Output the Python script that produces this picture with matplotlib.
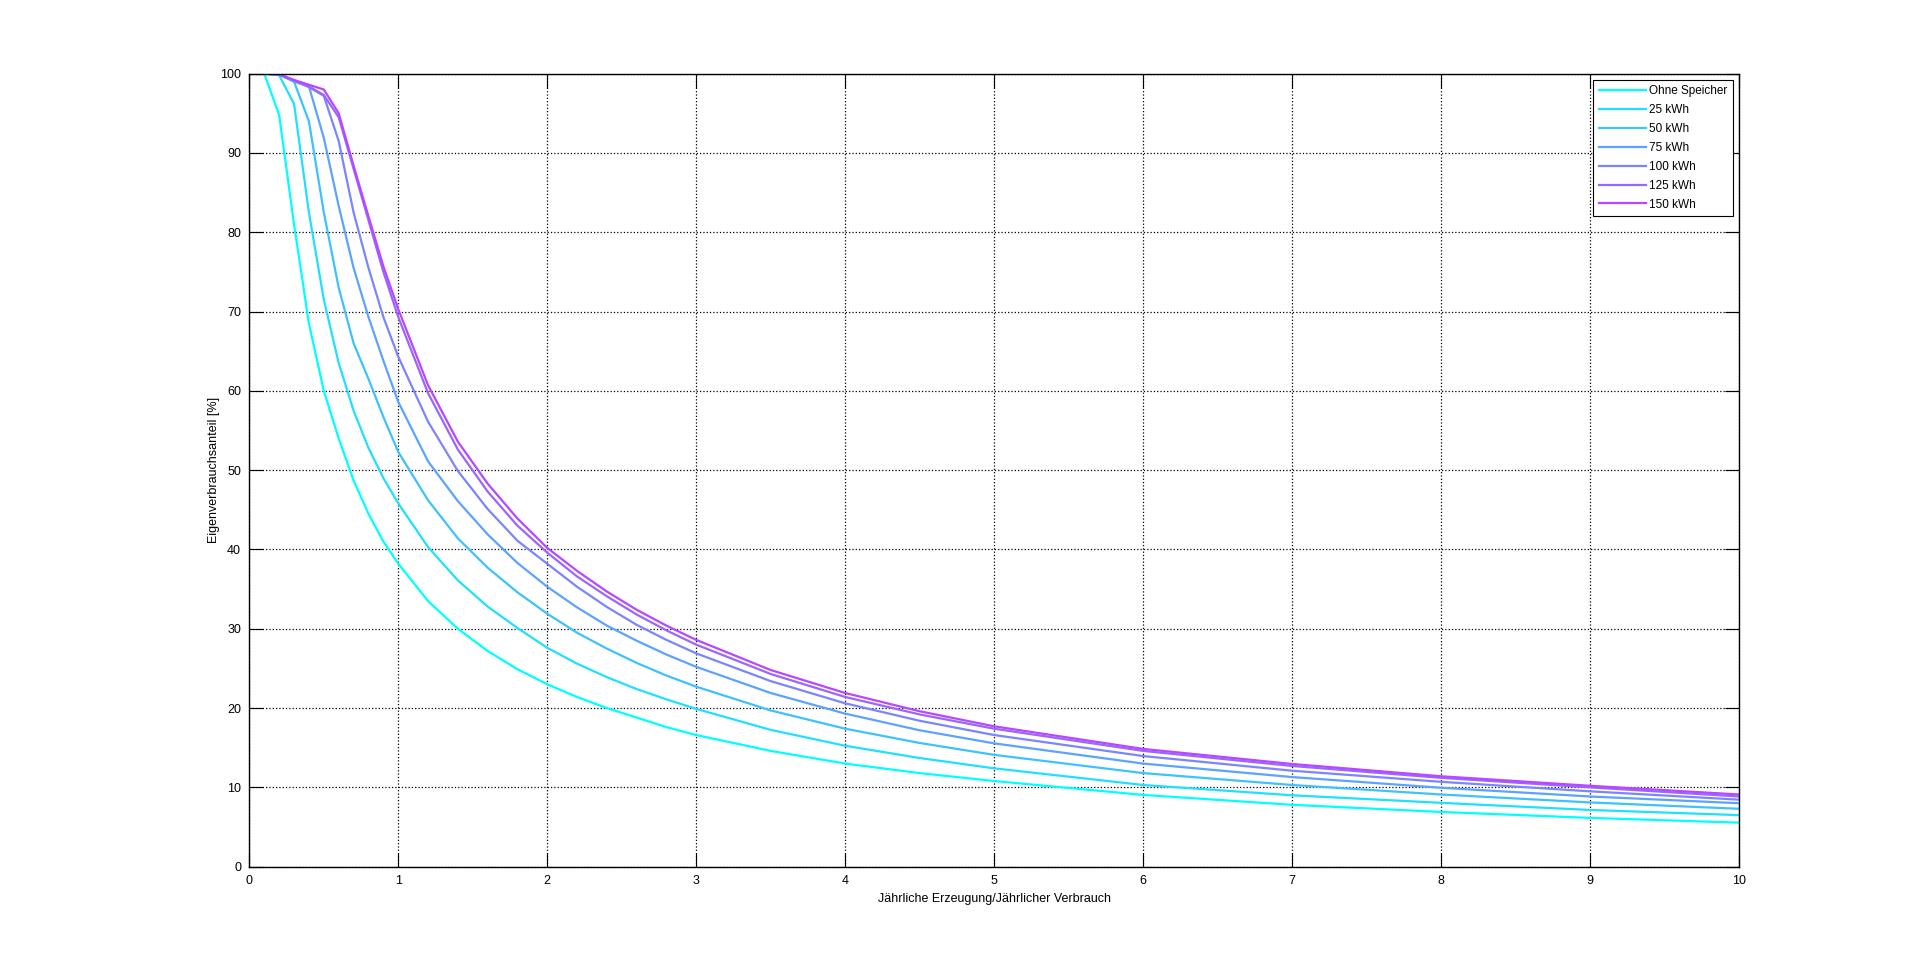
import numpy as np
import matplotlib
matplotlib.use('Agg')
import matplotlib.pyplot as plt

plt.rcParams['font.family'] = ['Liberation Sans', 'DejaVu Sans']

# x-Werte (Erzeugung/Verbrauch)
x_vals = [0.1, 0.2, 0.3, 0.4, 0.5, 0.6, 0.7, 0.8, 0.9, 1.0,
          1.2, 1.4, 1.6, 1.8, 2.0, 2.2, 2.4, 2.6, 2.8, 3.0,
          3.5, 4.0, 4.5, 5.0, 6.0, 7.0, 8.0, 9.0, 10.0]

# Eigenverbrauchsanteil [%] je Speichergröße
ohne_speicher = [100, 94.8, 81.0, 68.5, 60.0, 54.0, 48.7, 44.5, 41.0, 38.2,
                 33.5, 30.0, 27.2, 24.9, 23.0, 21.4, 20.0, 18.8, 17.6, 16.6,
                 14.6, 13.0, 11.8, 10.8, 9.05, 7.8, 6.9, 6.15, 5.55]
kwh_25 = [100, 99.8, 96.2, 82.5, 71.5, 63.5, 57.5, 52.8, 49.0, 45.8,
          40.3, 36.1, 32.8, 30.1, 27.6, 25.6, 23.9, 22.4, 21.1, 19.9,
          17.25, 15.25, 13.7, 12.4, 10.3, 9.0, 8.05, 7.15, 6.5]
kwh_50 = [100, 99.9, 99.0, 94.0, 82.5, 73.0, 66.0, 61.5, 56.7, 52.3,
          46.2, 41.4, 37.7, 34.6, 31.9, 29.5, 27.5, 25.7, 24.1, 22.7,
          19.7, 17.4, 15.6, 14.1, 11.8, 10.3, 9.1, 8.1, 7.3]
kwh_75 = [100, 99.9, 99.0, 98.4, 91.9, 83.3, 75.5, 69.3, 63.8, 58.6,
          51.1, 46.1, 41.9, 38.3, 35.3, 32.7, 30.4, 28.5, 26.75, 25.2,
          21.9, 19.3, 17.2, 15.55, 13.0, 11.3, 9.95, 8.85, 8.0]
kwh_100 = [100, 99.9, 99.1, 98.3, 97.2, 91.5, 82.5, 75.5, 69.3, 64.3,
           56.1, 49.9, 45.1, 41.1, 38.2, 35.3, 32.75, 30.5, 28.6, 26.9,
           23.4, 20.6, 18.4, 16.6, 13.95, 12.1, 10.7, 9.5, 8.45]
kwh_125 = [100, 99.9, 99.2, 98.4, 97.3, 94.5, 88.0, 81.5, 75.0, 69.3,
           59.7, 52.6, 47.3, 43.0, 39.6, 36.6, 34.1, 31.8, 29.8, 28.0,
           24.3, 21.4, 19.2, 17.4, 14.6, 12.7, 11.2, 10.0, 8.85]
kwh_150 = [100, 99.9, 99.2, 98.6, 98.0, 95.0, 88.4, 82.0, 75.7, 70.3,
           60.7, 53.6, 48.3, 43.9, 40.2, 37.3, 34.7, 32.4, 30.4, 28.6,
           24.8, 21.9, 19.6, 17.7, 14.85, 12.95, 11.4, 10.2, 9.1]

labels = ['Ohne Speicher', '25 kWh', '50 kWh', '75 kWh', '100 kWh', '125 kWh', '150 kWh']
series = [ohne_speicher, kwh_25, kwh_50, kwh_75, kwh_100, kwh_125, kwh_150]

fig = plt.figure(figsize=(19.21, 9.73), dpi=100)
ax = fig.add_axes([0.1298, 0.1093, 0.7753, 0.815])

# Farbverlauf cyan -> violett (wie MATLAB "cool")
for i, (y, lab) in enumerate(zip(series, labels)):
    t = i * 0.12
    ax.plot(x_vals, y, color=(t, 1 - t, 1.0), lw=1.6, label=lab)

ax.set_xlim(0, 10)
ax.set_ylim(0, 100)
ax.set_xticks(np.arange(0, 11, 1))
ax.set_yticks(np.arange(0, 101, 10))
ax.grid(True, linestyle=':', color='black', linewidth=0.9)
ax.tick_params(direction='in', length=10, width=0.8, top=True, right=True,
               labelsize=9, pad=6, colors='black')
for sp in ax.spines.values():
    sp.set_linewidth(1.0)

ax.set_xlabel('Jährliche Erzeugung/Jährlicher Verbrauch', fontsize=9, labelpad=4)
ax.set_ylabel('Eigenverbrauchsanteil [%]', fontsize=9, labelpad=0)

leg = ax.legend(loc='upper right', fontsize=8.5, frameon=True, fancybox=False,
                edgecolor='black', framealpha=1, borderaxespad=0.5,
                handlelength=4.0, handletextpad=0.2, labelspacing=0.58,
                borderpad=0.5)
leg.get_frame().set_linewidth(0.8)

fig.savefig('out.png', dpi=100, facecolor='white')
